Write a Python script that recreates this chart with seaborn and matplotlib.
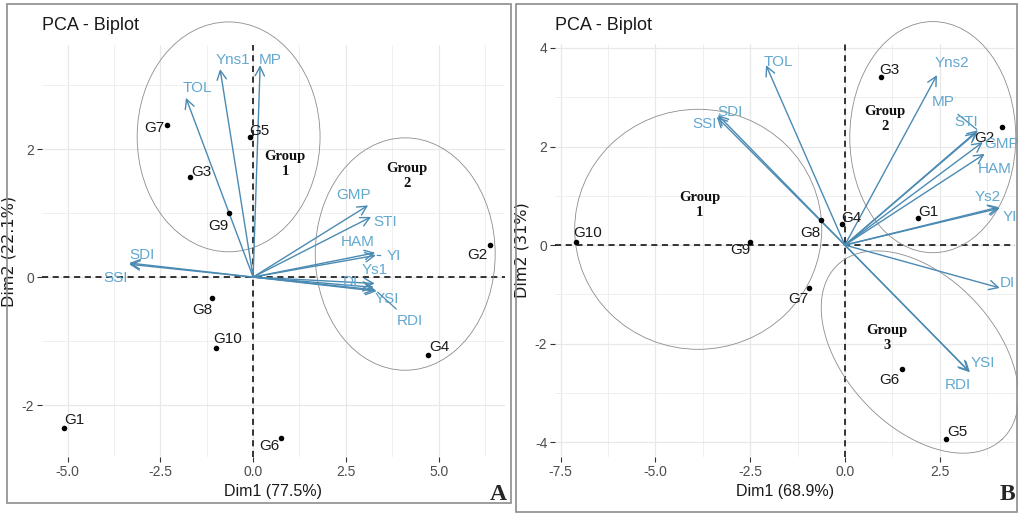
import numpy as np
import pandas as pd
import matplotlib
matplotlib.use("Agg")
import matplotlib.pyplot as plt
import seaborn as sns
from matplotlib.patches import Ellipse, Rectangle

# ---- panel A data ----
a_genotypes = ["G1", "G2", "G3", "G4", "G5", "G6", "G7", "G8", "G9", "G10"]
a_dim1 = [-5.09, 6.39, -1.70, 4.72, -0.08, 0.75, -2.32, -1.10, -0.65, -1.00]
a_dim2 = [-2.36, 0.50, 1.56, -1.22, 2.19, -2.52, 2.37, -0.33, 1.00, -1.11]

a_vars = ["MP", "Yns1", "TOL", "SDI", "SSI", "GMP", "STI", "HAM", "YI", "Ys1", "DI", "YSI", "RDI"]
a_var_dim1 = [0.19, -0.89, -1.81, -3.34, -3.34, 3.10, 3.18, 3.29, 3.31, 3.28, 3.25, 3.30, 3.33]
a_var_dim2 = [3.31, 3.25, 2.80, 0.22, 0.20, 1.12, 0.94, 0.38, 0.34, -0.10, -0.16, -0.20, -0.22]

a_xlabel = "Dim1 (77.5%)"
a_ylabel = "Dim2 (22.1%)"

# ---- panel B data ----
b_genotypes = ["G1", "G2", "G3", "G4", "G5", "G6", "G7", "G8", "G9", "G10"]
b_dim1 = [1.93, 4.14, 0.95, -0.08, 2.67, 1.50, -0.95, -0.63, -2.50, -7.10]
b_dim2 = [0.55, 2.39, 3.41, 0.43, -3.93, -2.52, -0.87, 0.51, 0.06, 0.06]

b_vars = ["TOL", "SDI", "SSI", "Yns2", "MP", "STI", "GMP", "HAM", "Ys2", "YI", "DI", "YSI", "RDI"]
b_var_dim1 = [-2.08, -3.35, -3.38, 2.43, 3.51, 3.48, 3.64, 3.69, 4.06, 4.09, 4.09, 3.30, 3.27]
b_var_dim2 = [3.65, 2.64, 2.60, 3.45, 2.33, 2.29, 2.09, 1.85, 0.77, 0.75, -0.87, -2.58, -2.56]

b_xlabel = "Dim1 (68.9%)"
b_ylabel = "Dim2 (31%)"

# ---- layout (label offsets in pixels, group ellipses, axes limits) ----
a_ind_off = {"G1": (10, 8), "G2": (-13, -10), "G3": (11, 5), "G4": (11, 8), "G5": (9, 6),
             "G6": (-12, -8), "G7": (-13, -3), "G8": (-10, -12), "G9": (-11, -13), "G10": (12, 9)}
a_var_off = {"MP": (10, 5), "Yns1": (13, 9), "TOL": (11, 10), "SDI": (13, 8), "SSI": (-14, -14),
             "GMP": (-15, 10), "STI": (14, -5), "HAM": (-17, 11), "YI": (18, -1), "Ys1": (0, 13),
             "DI": (-23, 5), "YSI": (11, -9), "RDI": (33, -30)}
a_connect = ["RDI", "YI"]

b_ind_off = {"G1": (10, 6), "G2": (-17, -11), "G3": (9, 7), "G4": (10, 6), "G5": (11, 7),
             "G6": (-12, -11), "G7": (-11, -11), "G8": (-11, -13), "G9": (-10, -8), "G10": (12, 9)}
b_var_off = {"TOL": (12, 3), "SDI": (12, 3), "SSI": (-12, -7), "Yns2": (15, 12), "MP": (-35, 28),
             "STI": (-10, 10), "GMP": (19, -2), "HAM": (10, -15), "Ys2": (-11, 10), "YI": (10, -9),
             "DI": (8, 5), "YSI": (13, 9), "RDI": (-11, -14)}
b_connect = ["MP"]

ARROW = "#4a8ab3"
LABEL = "#62a8cf"
TICK = "#4d4d4d"
ELL = "#8c8c8c"
SANS = ["Liberation Sans Narrow", "Liberation Sans", "DejaVu Sans"]
SERIF = ["Liberation Serif", "DejaVu Serif"]

sns.set_theme(style="white")
plt.rcParams["font.family"] = SANS

fig = plt.figure(figsize=(10.18, 5.14), dpi=100)
W, H = 1018, 514


def px_axes(x0, x1, y0, y1):
    return fig.add_axes([x0 / W, 1 - y1 / H, (x1 - x0) / W, (y1 - y0) / H])


def style_axes(ax, xlim, ylim, xmaj, xmin, ymaj, ymin):
    ax.set_xlim(*xlim)
    ax.set_ylim(*ylim)
    ax.set_xticks(xmaj)
    ax.set_xticks(xmin, minor=True)
    ax.set_yticks(ymaj)
    ax.set_yticks(ymin, minor=True)
    ax.set_xticklabels([f"{v:.1f}" for v in xmaj])
    ax.set_yticklabels([f"{v:g}" for v in ymaj])
    ax.grid(True, which="major", color="#e8e8e8", lw=0.9)
    ax.grid(True, which="minor", color="#efefef", lw=0.7)
    ax.set_axisbelow(True)
    for s in ax.spines.values():
        s.set_visible(False)
    ax.tick_params(which="major", length=3.5, width=0.8, color="#333333", labelcolor=TICK,
                   labelsize=10, pad=2, left=True, bottom=True)
    ax.tick_params(which="minor", length=0)
    ax.axhline(0, color="black", lw=1.1, ls=(0, (4, 3)), zorder=1)
    ax.axvline(0, color="black", lw=1.1, ls=(0, (4, 3)), zorder=1)


def draw_biplot(ax, names, d1, d2, ind_off, vnames, v1, v2, var_off, connect):
    ind = pd.DataFrame({"Dim1": d1, "Dim2": d2, "name": names})
    sns.scatterplot(data=ind, x="Dim1", y="Dim2", color="black", s=16, linewidth=0,
                    ax=ax, zorder=4, legend=False)
    for _, r in ind.iterrows():
        ax.annotate(r["name"], (r["Dim1"], r["Dim2"]), xytext=ind_off[r["name"]],
                    textcoords="offset pixels", ha="center", va="center",
                    fontsize=11, color="#1a1a1a", zorder=5)
    for name, x, y in zip(vnames, v1, v2):
        ax.annotate("", xy=(x, y), xytext=(0, 0),
                    arrowprops=dict(arrowstyle="->,head_length=0.55,head_width=0.28",
                                    color=ARROW, lw=1.0, shrinkA=0, shrinkB=0), zorder=3)
        props = None
        if name in connect:
            props = dict(arrowstyle="-", color=ARROW, lw=0.9, shrinkA=2, shrinkB=1)
        ax.annotate(name, (x, y), xytext=var_off[name], textcoords="offset pixels",
                    ha="center", va="center", fontsize=11, color=LABEL,
                    arrowprops=props, zorder=5)


def group_label(ax, x, y, num):
    ax.text(x, y, f"Group\n{num}", ha="center", va="center", fontsize=10.5,
            fontweight="bold", family=SERIF, color="#111111", linespacing=1.25, zorder=6)


def ellipse(ax, cx, cy, w, h):
    ax.add_patch(Ellipse((cx, cy), w, h, fill=False, ec=ELL, lw=0.6,
                         clip_on=False, zorder=2))


# ---------- Panel A ----------
axA = px_axes(42, 505, 45, 457)
style_axes(axA, (-5.69, 6.79), (-2.81, 3.625),
           [-5.0, -2.5, 0.0, 2.5, 5.0], [-3.75, -1.25, 1.25, 3.75, 6.25],
           [-2, 0, 2], [-1, 1, 3])
draw_biplot(axA, a_genotypes, a_dim1, a_dim2, a_ind_off,
            a_vars, a_var_dim1, a_var_dim2, a_var_off, a_connect)
ellipse(axA, -0.66, 2.19, 4.93, 3.59)
ellipse(axA, 4.10, 0.36, 4.85, 3.63)
group_label(axA, 0.86, 1.77, 1)
group_label(axA, 4.15, 1.58, 2)
axA.set_xlabel(a_xlabel, fontsize=11.5, color="#1a1a1a", labelpad=4)
axA.set_ylabel(a_ylabel, fontsize=11.5, color="#1a1a1a", labelpad=4,
               family=["DejaVu Sans"])

# ---------- Panel B ----------
axB = px_axes(555, 1015, 44, 457)
style_axes(axB, (-7.65, 4.49), (-4.30, 4.08),
           [-7.5, -5.0, -2.5, 0.0, 2.5], [-6.25, -3.75, -1.25, 1.25, 3.75],
           [-4, -2, 0, 2, 4], [-3, -1, 1, 3])
draw_biplot(axB, b_genotypes, b_dim1, b_dim2, b_ind_off,
            b_vars, b_var_dim1, b_var_dim2, b_var_off, b_connect)
ellipse(axB, -3.87, 0.32, 6.52, 4.87)
ellipse(axB, 2.32, 2.19, 4.38, 4.69)
# tilted group 3 ellipse, given by centre and two conjugate semi-axes
g3_c, g3_u, g3_v = (1.98, -2.17), (2.17, -1.77), (1.44, 1.04)
t = np.linspace(0, 2 * np.pi, 200)
axB.plot(g3_c[0] + g3_u[0] * np.cos(t) + g3_v[0] * np.sin(t),
         g3_c[1] + g3_u[1] * np.cos(t) + g3_v[1] * np.sin(t),
         color=ELL, lw=0.6, clip_on=False, zorder=2)
group_label(axB, -3.83, 0.81, 1)
group_label(axB, 1.06, 2.56, 2)
group_label(axB, 1.11, -1.89, 3)
axB.set_xlabel(b_xlabel, fontsize=11.5, color="#1a1a1a", labelpad=4)
axB.set_ylabel(b_ylabel, fontsize=11.5, color="#1a1a1a", labelpad=4,
               family=["DejaVu Sans"])

# ---------- titles, panel letters, frames ----------
fig.text(42 / W, 1 - 25 / H, "PCA - Biplot", fontsize=13, color="#1a1a1a", va="center")
fig.text(555 / W, 1 - 25 / H, "PCA - Biplot", fontsize=13, color="#1a1a1a", va="center")
fig.text(498 / W, 1 - 495 / H, "A", fontsize=17, fontweight="bold", family=SERIF,
         ha="center", va="center")
fig.text(1007 / W, 1 - 495 / H, "B", fontsize=17, fontweight="bold", family=SERIF,
         ha="center", va="center")
fig.patches.append(Rectangle((7 / W, 1 - 503 / H), 504 / W, 499 / H, fill=False,
                             ec="#8c8c8c", lw=1.2, transform=fig.transFigure, figure=fig))
fig.patches.append(Rectangle((516 / W, 1 - 512 / H), 501 / W, 508 / H, fill=False,
                             ec="#8c8c8c", lw=1.2, transform=fig.transFigure, figure=fig))

fig.savefig("out.png", dpi=100)
